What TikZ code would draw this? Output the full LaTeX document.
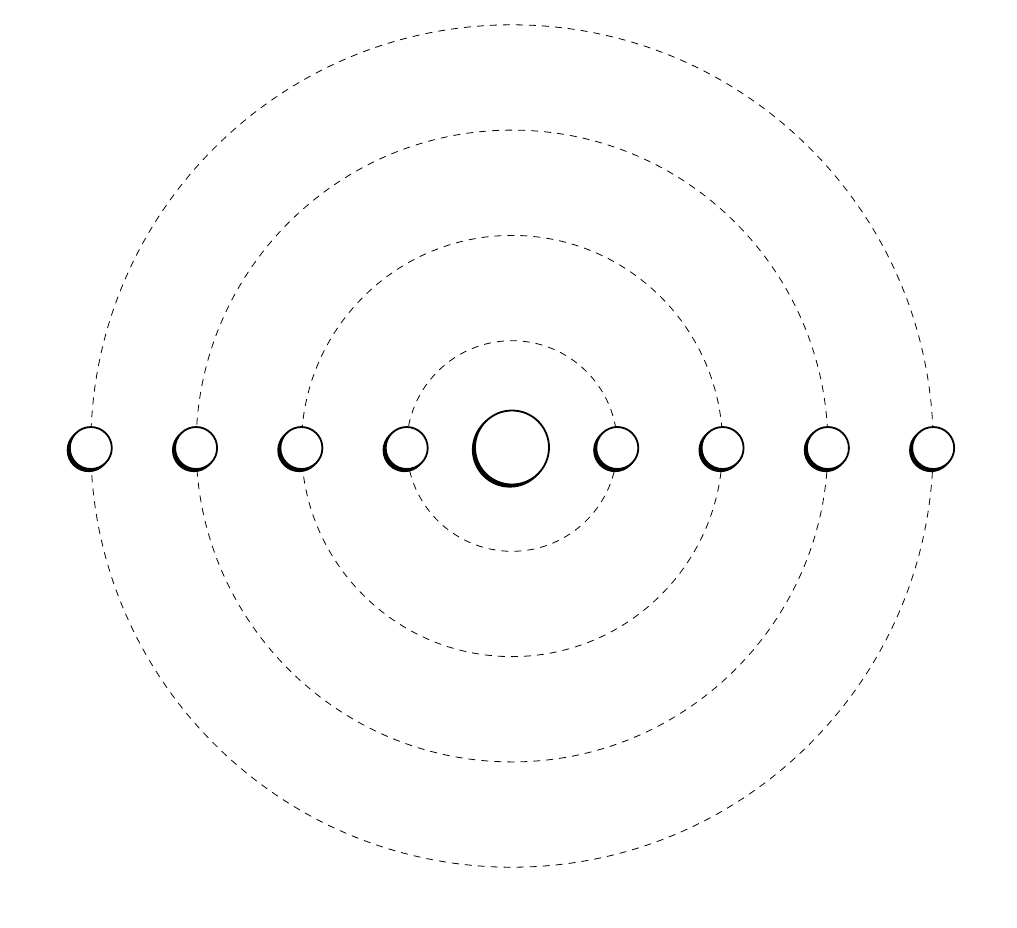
\documentclass[tikz,border=0pt]{standalone}
\begin{document}
\begin{tikzpicture}[x=1pt,y=-1pt,
  orbit/.style={draw, line width=0.8pt, dash pattern=on 7pt off 6pt},
  planet/.style={circle, draw, fill=white, line width=1.8pt, inner sep=0pt, minimum size=42pt,
    preaction={fill=black, draw=black, line width=1.8pt, transform canvas={shift={(-2.2pt,-2.2pt)}}}},
  sun/.style={planet, minimum size=74pt}]
\useasboundingbox (0,0) rectangle (1017,927);
\coordinate (c) at (512,446);
\foreach \i in {1,...,4} {
  \draw[orbit] (c) circle[radius=105.3*\i];
}
\node[sun] (s) at (512,447.5) {};
\foreach \i in {1,...,4} {
  \node[planet] (l\i) at (512-105.3*\i,448) {};
  \node[planet] (r\i) at (512+105.3*\i,448) {};
}
\end{tikzpicture}
\end{document}
